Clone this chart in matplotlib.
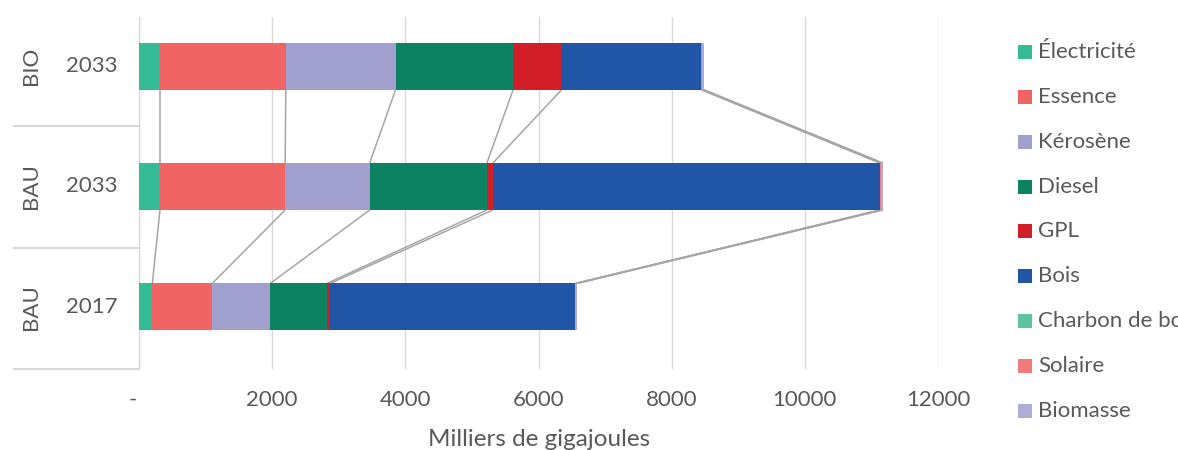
import matplotlib
matplotlib.use("Agg")
import matplotlib.pyplot as plt
from matplotlib.lines import Line2D
from matplotlib.patches import Rectangle
import numpy as np

plt.rcParams['font.family'] = ['Lato', 'DejaVu Sans']

# Data (bottom to top, as drawn)
categories = ["2017", "2033", "2033"]
groups = ["BAU", "BAU", "BIO"]
series_names = ["Électricité", "Essence", "Kérosène", "Diesel", "GPL", "Bois",
                "Charbon de bois", "Solaire", "Biomasse"]
electricite = [200, 315, 315]
essence = [900, 1880, 1890]
kerosene = [870, 1270, 1650]
diesel = [850, 1760, 1765]
gpl = [50, 90, 730]
bois = [3685, 5815, 2090]
charbon = [0, 0, 0]
solaire = [0, 20, 20]
biomasse = [30, 25, 20]
xticks = [0, 2000, 4000, 6000, 8000, 10000, 12000]
xticklabels = ["-  ", "2000", "4000", "6000", "8000", "10000", "12000"]

colors = ["#35BC96", "#F06464", "#A09FCD", "#0C8262", "#D21F27", "#2155A5",
          "#5EC19F", "#F07B7B", "#ADADD8"]
series = [electricite, essence, kerosene, diesel, gpl, bois, charbon, solaire, biomasse]

W, H = 1178, 450
fig = plt.figure(figsize=(W / 100, H / 100), dpi=100)
ax = fig.add_axes([139 / W, 1 - 369 / H, (938 - 139) / W, (369 - 17) / H])

y = np.arange(len(categories))
bh = 0.39
left = np.zeros(len(categories))
cums = []
for vals, c in zip(series, colors):
    v = np.array(vals, dtype=float)
    ax.barh(y, v, left=left, height=bh, color=c, edgecolor='none', zorder=3)
    left = left + v
    cums.append(left.copy())

# series lines
for cum in cums:
    for i in range(len(categories) - 1):
        ax.plot([cum[i], cum[i + 1]], [y[i] + bh / 2, y[i + 1] - bh / 2],
                color="#A6A6A6", lw=1.1, zorder=2, solid_capstyle='butt')

txtc = "#595959"
fs = 16

ax.set_xlim(0, 12000)
ax.set_ylim(-0.515, 2.407)
ax.set_xticks(xticks)
ax.set_xticklabels(xticklabels)
ax.set_yticks([])
ax.xaxis.grid(True, color="#D9D9D9", lw=1.0, zorder=0)
ax.set_axisbelow(True)
for s in ["top", "right", "bottom"]:
    ax.spines[s].set_visible(False)
ax.spines["left"].set_color("#D9D9D9")
ax.spines["left"].set_linewidth(1.0)
ax.tick_params(axis='x', length=0, pad=15, labelsize=fs, labelcolor=txtc)

# category labels
for i, (cat, g) in enumerate(zip(categories, groups)):
    ypx = ax.transData.transform((0, y[i]))[1]
    yf = ypx / H
    fig.text(92 / W, yf, cat, ha='center', va='center', fontsize=fs, color=txtc)
    fig.text(31 / W, yf, g, ha='center', va='center', fontsize=fs, color=txtc, rotation=90)

# separators for category axis
for ypx in [126, 248, 369]:
    fig.add_artist(Line2D([14 / W, 139 / W], [1 - ypx / H, 1 - ypx / H],
                          color="#D9D9D9", lw=1.5))

# x label
fig.text(539 / W, 1 - 446 / H, "Milliers de gigajoules", ha='center', va='baseline',
         fontsize=17.5, color=txtc)

# legend
leg_y = [52, 97, 142, 187, 231, 276, 321, 366, 411]
for name, c, ly in zip(series_names, colors, leg_y):
    fig.add_artist(Rectangle((1018 / W, 1 - (ly + 7) / H), 14 / W, 14 / H,
                             facecolor=c, edgecolor='none', transform=fig.transFigure))
    fig.text(1038 / W, 1 - ly / H, name, ha='left', va='center', fontsize=fs, color=txtc)

fig.savefig("out.png", dpi=100)
